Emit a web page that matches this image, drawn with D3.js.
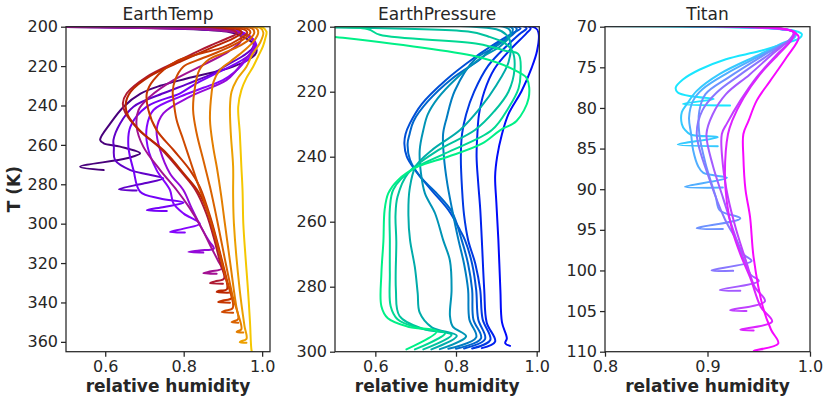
<!DOCTYPE html>
<html><head><meta charset="utf-8">
<script src="https://cdn.jsdelivr.net/npm/d3@7"></script>
<style>
body{margin:0;background:#fff;}
svg text{font-family:"DejaVu Sans",sans-serif;fill:#262626;}
</style></head><body>
<svg id="chart" width="830" height="403"></svg>
<script>
// ---------------- DATA ([relative humidity, T]) ----------------
const titles = ["EarthTemp", "EarthPressure", "Titan"];
const xLabel = "relative humidity";
const yLabel = "T (K)";

const earthTempXTicks = [0.6, 0.8, 1.0];
const earthTempYTicks = [200, 220, 240, 260, 280, 300, 320, 340, 360];
const earthPressureXTicks = [0.6, 0.8, 1.0];
const earthPressureYTicks = [200, 220, 240, 260, 280, 300];
const titanXTicks = [0.8, 0.9, 1.0];
const titanYTicks = [70, 75, 80, 85, 90, 95, 100, 105, 110];

const earthTempCurves = [
 [[0.0,200],[0.91,202.5],[0.95,205],[0.977,208.5],[0.986,211.9],[0.981,214.4],[0.926,220.3],[0.808,226.3],[0.74,230],[0.69,234],[0.647,240.6],[0.613,249.1],[0.587,257.5],[0.596,259.2],[0.638,260.9],[0.689,264.3],[0.655,266.8],[0.536,271.1],[0.596,272.8]],
 [[0.0,200],[0.92,202.2],[0.96,204.5],[0.978,207.5],[0.975,211],[0.95,215],[0.91,219.5],[0.875,223.7],[0.81,229],[0.748,233.8],[0.672,240.6],[0.638,249.1],[0.621,257.5],[0.622,261],[0.625,267.7],[0.664,272.8],[0.71,275],[0.748,277],[0.7,279.5],[0.635,282.5],[0.68,283.2]],
 [[0.0,200],[0.93,202.5],[0.965,205],[0.982,209],[0.975,213],[0.94,218],[0.88,224],[0.83,229],[0.791,233.8],[0.706,240.6],[0.664,250.8],[0.659,260.9],[0.672,272.8],[0.689,283.8],[0.74,287.2],[0.8,289.3],[0.75,291.5],[0.706,293.2],[0.757,293.6]],
 [[0.0,200],[0.935,202],[0.97,205],[0.985,209],[0.98,213],[0.955,218],[0.93,223],[0.9,227.1],[0.85,231],[0.791,235.5],[0.723,242.3],[0.706,250.8],[0.708,260.9],[0.731,272.8],[0.765,282.9],[0.774,289.8],[0.8,294.9],[0.841,300],[0.8,302.5],[0.765,304.2],[0.803,304.5]],
 [[0.0,200],[0.93,202],[0.965,204.5],[0.98,208],[0.975,212],[0.955,217],[0.935,222],[0.909,227.1],[0.816,235.5],[0.748,244],[0.731,252.5],[0.74,262.6],[0.765,274.5],[0.799,282.9],[0.82,292],[0.845,302],[0.865,309],[0.877,312.6],[0.84,313.6],[0.812,314.4],[0.85,314.7]],
 [[0.0,200],[0.9,202],[0.945,204],[0.945,207.5],[0.915,212.5],[0.858,218.6],[0.774,227.1],[0.714,235.5],[0.685,242.3],[0.68,250.8],[0.697,260.9],[0.74,272.8],[0.782,282.9],[0.815,292],[0.845,302],[0.87,312],[0.888,319],[0.897,322.8],[0.87,324.2],[0.85,325.1],[0.884,325.4]],
 [[0.0,200],[0.925,201.7],[0.935,203.4],[0.91,206],[0.875,209],[0.841,212],[0.791,216.9],[0.706,225.4],[0.655,233.8],[0.645,238.9],[0.652,244],[0.686,252.5],[0.745,262.6],[0.797,274.5],[0.83,282.9],[0.858,295],[0.878,308],[0.893,320],[0.903,327.8],[0.88,329.3],[0.867,330.2],[0.9,330.5]],
 [[0.0,200],[0.94,201.5],[0.948,203],[0.925,206],[0.885,209.5],[0.85,212.5],[0.8,217],[0.715,225],[0.665,233],[0.652,239.5],[0.658,245],[0.69,253],[0.75,263],[0.802,275],[0.838,284],[0.865,296],[0.885,310],[0.9,322],[0.91,333.4],[0.89,334],[0.884,334.7],[0.918,335]],
 [[0.0,200],[0.955,201.5],[0.962,203],[0.94,206.5],[0.9,210.5],[0.845,213.5],[0.782,217.5],[0.723,227.1],[0.706,233.8],[0.71,242.3],[0.731,252.5],[0.774,262.6],[0.816,272.8],[0.841,281.3],[0.87,298],[0.893,315],[0.912,330],[0.922,337.8],[0.9,339],[0.888,339.8],[0.918,340.1]],
 [[0.0,200],[0.965,201.3],[0.97,203],[0.955,206],[0.925,209.5],[0.88,213.5],[0.835,217],[0.799,220.3],[0.778,227.1],[0.772,233],[0.774,237.2],[0.782,247.4],[0.799,257.5],[0.816,267.7],[0.833,277.9],[0.858,292],[0.882,308],[0.905,326],[0.925,342.8],[0.905,344.2],[0.897,344.9],[0.926,345.2]],
 [[0.0,200],[0.975,201],[0.98,203],[0.97,206],[0.945,209.5],[0.9,213.5],[0.865,216.5],[0.84,222],[0.829,230.5],[0.824,242.3],[0.833,254.1],[0.85,267.7],[0.867,281.3],[0.885,298],[0.905,318],[0.925,337],[0.939,348.3],[0.928,349.5],[0.922,350],[0.939,350.3]],
 [[0.0,200],[0.985,200.8],[0.99,203],[0.98,207],[0.955,212],[0.92,217.5],[0.892,222],[0.876,228],[0.871,233.8],[0.867,247.4],[0.875,260.9],[0.885,272],[0.895,285],[0.905,300],[0.92,322],[0.935,343],[0.947,353.6],[0.938,354.6],[0.935,355],[0.952,355.3]],
 [[0.0,200],[0.995,200.6],[1.003,203],[0.995,208],[0.975,214],[0.96,220.3],[0.935,227],[0.922,233],[0.918,240.7],[0.92,254],[0.926,271],[0.926,285],[0.928,300],[0.943,334],[0.955,352],[0.96,358.5],[0.945,359.8],[0.943,360.2],[0.96,360.5]],
 [[0.0,200],[1.0,200.3],[1.011,202.5],[1.008,206],[1.002,210],[0.99,215],[0.977,220.3],[0.96,226],[0.947,232.2],[0.939,240.7],[0.943,254],[0.947,271],[0.95,283],[0.952,300],[0.958,318],[0.964,334],[0.969,350],[0.973,364.4],[0.975,365.5]]
];

const earthPressureCurves = [
 [[0.0,200],[0.997,200.4],[1.005,202.2],[1.001,207.4],[0.988,212.5],[0.963,219.7],[0.93,226.9],[0.914,233],[0.902,240],[0.897,246],[0.9,254],[0.905,265.6],[0.91,281],[0.914,291],[0.926,295.9],[0.922,297.4],[0.934,298.2]],
 [[0.0,200],[0.985,200.4],[0.975,202],[0.935,207],[0.895,213],[0.87,220],[0.857,227],[0.853,233],[0.851,240],[0.855,248],[0.86,256],[0.864,265.6],[0.87,281],[0.876,291],[0.897,296.9],[0.864,298.9]],
 [[0.0,200],[0.975,200.4],[0.96,202],[0.925,206],[0.88,212],[0.845,220],[0.825,227],[0.815,233],[0.812,240],[0.815,250],[0.82,258],[0.83,265.6],[0.848,273],[0.86,281],[0.866,290],[0.885,296.4],[0.84,299]],
 [[0.0,200],[0.96,200.5],[0.94,202],[0.9,205],[0.847,209.4],[0.773,216.6],[0.715,223.8],[0.685,229.9],[0.675,233],[0.672,236],[0.678,240],[0.698,244],[0.739,250.3],[0.781,256.4],[0.81,262.6],[0.822,265.6],[0.84,273],[0.85,281],[0.855,290],[0.872,296.1],[0.82,299]],
 [[0.0,200],[0.95,200.5],[0.94,202.5],[0.9,205.5],[0.86,210],[0.79,216],[0.73,223],[0.695,229],[0.685,233],[0.68,236],[0.686,241],[0.71,246],[0.75,251],[0.79,257],[0.814,265.6],[0.83,273],[0.84,281],[0.843,290],[0.862,295.9],[0.8,299.1]],
 [[0.0,200],[0.94,200.5],[0.935,202.5],[0.9,206],[0.847,210],[0.797,219.7],[0.777,228],[0.768,233],[0.77,240],[0.778,248],[0.79,256],[0.806,265.6],[0.82,273],[0.83,281],[0.833,290],[0.85,295.6],[0.781,299.1]],
 [[0.0,200],[0.93,200.6],[0.935,202.5],[0.91,206],[0.864,209.4],[0.8,216],[0.755,222],[0.73,227],[0.719,231.8],[0.71,238],[0.713,245],[0.723,251.3],[0.748,257.4],[0.768,265.6],[0.785,272],[0.789,281],[0.785,289],[0.792,292.3],[0.825,295.3],[0.76,299.2]],
 [[0.0,200],[0.9,200.8],[0.925,202.5],[0.935,205],[0.93,211],[0.9,218],[0.86,225],[0.81,231.8],[0.74,238],[0.7,243],[0.685,250],[0.682,258],[0.686,265.6],[0.698,274],[0.705,282],[0.71,288],[0.74,292.5],[0.802,295.1],[0.739,299.3]],
 [[0.1,200],[0.83,201.5],[0.88,203],[0.92,205],[0.94,207.5],[0.945,213],[0.93,220],[0.895,226],[0.847,231.8],[0.756,238],[0.681,245.1],[0.655,252.3],[0.65,258],[0.652,266],[0.651,281],[0.66,289],[0.72,293],[0.789,294.8],[0.719,299.3]],
 [[0.2,200],[0.58,200.7],[0.611,202.5],[0.856,205.3],[0.922,207.4],[0.955,208.5],[0.96,214.6],[0.955,219],[0.93,225],[0.889,231.8],[0.773,239],[0.69,244.1],[0.645,250],[0.636,256],[0.636,266],[0.636,276],[0.638,286],[0.655,290],[0.71,292.8],[0.773,294.3],[0.698,299.3]],
 [[0.264,200],[0.86,209.5],[0.955,214],[0.976,216],[0.98,222],[0.95,229],[0.91,231.8],[0.864,236],[0.78,240],[0.706,243],[0.656,247.2],[0.632,251.3],[0.623,256.4],[0.62,266],[0.615,276],[0.615,286],[0.631,289.7],[0.681,292.3],[0.752,293.8],[0.677,299.3]]
];

const titanCurves = [
 [[0.0,70],[0.975,70.3],[0.988,70.6],[0.992,70.9],[0.99,71.4],[0.977,72.0],[0.951,73.0],[0.918,74.0],[0.892,75.3],[0.876,76.5],[0.869,77.5],[0.871,78.1],[0.886,78.6],[0.906,78.9],[0.876,79.5],[0.922,79.7]],
 [[0.0,70],[0.972,70.3],[0.986,70.7],[0.985,71.3],[0.97,72.2],[0.951,73.4],[0.912,75.8],[0.8895,77.9],[0.88,79.5],[0.875,80.5],[0.875,82],[0.878,82.7],[0.884,83.3],[0.91,83.6],[0.871,84.5],[0.91,84.7]],
 [[0.0,70],[0.972,70.3],[0.985,70.7],[0.983,71.4],[0.968,72.5],[0.951,73.6],[0.918,75.8],[0.895,77.7],[0.886,79.1],[0.882,81.2],[0.884,83.2],[0.886,85.2],[0.891,87.2],[0.896,88.0],[0.919,88.6],[0.878,89.7],[0.915,89.8]],
 [[0.0,70],[0.972,70.3],[0.985,70.7],[0.982,71.5],[0.967,72.6],[0.951,73.8],[0.921,76.2],[0.898,78.3],[0.892,80.4],[0.892,83.2],[0.898,86.8],[0.908,90.9],[0.912,92.6],[0.932,93.6],[0.8895,94.8],[0.915,94.9]],
 [[0.0,70],[0.973,70.3],[0.985,70.7],[0.982,71.5],[0.97,72.5],[0.958,73.6],[0.932,75.9],[0.909,78.1],[0.895,80.3],[0.8895,83.2],[0.902,88.8],[0.917,93.7],[0.928,96.2],[0.935,98.0],[0.943,98.85],[0.904,99.98],[0.925,100.05]],
 [[0.0,70],[0.974,70.3],[0.984,70.7],[0.98,71.6],[0.964,73.3],[0.941,75.9],[0.918,78.3],[0.905,80.8],[0.899,83.2],[0.905,87],[0.915,91],[0.925,95],[0.935,98.5],[0.942,100.5],[0.95,101.3],[0.912,102.4],[0.932,102.5]],
 [[0.0,70],[0.975,70.3],[0.985,70.7],[0.982,71.6],[0.967,73.5],[0.948,76.2],[0.932,79.1],[0.919,81.9],[0.914,83.2],[0.915,87],[0.92,91],[0.928,95],[0.938,99],[0.946,102],[0.956,103.8],[0.922,104.9],[0.938,105]],
 [[0.0,70],[0.975,70.3],[0.984,70.7],[0.982,71.6],[0.97,73.3],[0.951,75.9],[0.935,78.8],[0.924,81.6],[0.92,83.2],[0.917,88],[0.919,91.7],[0.924,95],[0.932,98],[0.942,101],[0.952,104.5],[0.963,106.3],[0.932,107.3],[0.945,107.4]],
 [[0.0,70],[0.976,70.3],[0.985,70.7],[0.989,71.3],[0.977,73.8],[0.961,76.7],[0.948,79.1],[0.94,81.6],[0.935,83.2],[0.935,86],[0.937,90],[0.9415,93.4],[0.945,98.4],[0.954,104.5],[0.962,107.3],[0.969,109],[0.945,109.9],[0.954,110]]
];

// ---------------- STYLE / LAYOUT ----------------
const gnuplot = t => d3.rgb(255*Math.sqrt(t), 255*t*t*t, 255*Math.max(0, Math.sin(2*Math.PI*t))).formatHex();
const winter = t => d3.rgb(0, 255*t, 255*(1-0.5*t)).formatHex();
const cool = t => d3.rgb(255*t, 255*(1-t), 255).formatHex();

const plotTop = 26.7, plotBottom = 351.7;
const panels = [
  {title: titles[0], curves: earthTempCurves, xDom: [0.5, 1.02], yDom: [200, 365], xTicks: earthTempXTicks, yTicks: earthTempYTicks, x0: 66, x1: 270, cmap: gnuplot, t0: 0.08, t1: 0.92},
  {title: titles[1], curves: earthPressureCurves, xDom: [0.5, 1.0065], yDom: [200, 300], xTicks: earthPressureXTicks, yTicks: earthPressureYTicks, x0: 335, x1: 539.3, cmap: winter, t0: 0.04, t1: 0.94},
  {title: titles[2], curves: titanCurves, xDom: [0.8, 1.0], yDom: [70, 110], xTicks: titanXTicks, yTicks: titanYTicks, x0: 605, x1: 810, cmap: cool, t0: 0.1, t1: 0.97}
];

const svg = d3.select("#chart");
const ink = "#262626";

panels.forEach((p, pi) => {
  const x = d3.scaleLinear().domain(p.xDom).range([p.x0, p.x1]);
  const y = d3.scaleLinear().domain(p.yDom).range([plotTop, plotBottom]);
  const g = svg.append("g");

  const clipId = "clip" + pi;
  svg.append("clipPath").attr("id", clipId).append("rect")
    .attr("x", p.x0).attr("y", plotTop).attr("width", p.x1 - p.x0).attr("height", plotBottom - plotTop);

  const line = d3.line().x(d => x(d[0])).y(d => y(d[1])).curve(d3.curveCatmullRom.alpha(0.5));
  const n = p.curves.length;
  g.append("g").attr("clip-path", `url(#${clipId})`)
    .selectAll("path").data(p.curves).join("path")
    .attr("d", line)
    .attr("fill", "none")
    .attr("stroke", (d, i) => p.cmap(p.t0 + (p.t1 - p.t0) * i / (n - 1)))
    .attr("stroke-width", 2)
    .attr("stroke-linejoin", "round")
    .attr("stroke-linecap", "round");

  const xAxis = d3.axisBottom(x).tickValues(p.xTicks).tickFormat(d3.format(".1f")).tickSize(5).tickPadding(4);
  const yAxis = d3.axisLeft(y).tickValues(p.yTicks).tickFormat(d3.format("d")).tickSize(5).tickPadding(3);
  const gx = g.append("g").attr("transform", `translate(0,${plotBottom})`).call(xAxis);
  const gy = g.append("g").attr("transform", `translate(${p.x0},0)`).call(yAxis);
  [gx, gy].forEach(a => {
    a.select(".domain").remove();
    a.selectAll(".tick line").attr("stroke", ink).attr("stroke-width", 1.25);
    a.selectAll(".tick text").attr("fill", ink).style("font-size", "16px").style("font-family", "DejaVu Sans");
  });

  g.append("rect").attr("x", p.x0).attr("y", plotTop).attr("width", p.x1 - p.x0).attr("height", plotBottom - plotTop)
    .attr("fill", "none").attr("stroke", ink).attr("stroke-width", 1.25);

  g.append("text").attr("x", (p.x0 + p.x1) / 2).attr("y", 20).attr("text-anchor", "middle")
    .style("font-size", "17px").text(p.title);

  g.append("text").attr("x", (p.x0 + p.x1) / 2).attr("y", 392).attr("text-anchor", "middle")
    .style("font-size", "17px").style("font-weight", "bold").text(xLabel);

  if (pi === 0) {
    g.append("text").attr("transform", `translate(20,${(plotTop + plotBottom) / 2}) rotate(-90)`)
      .attr("text-anchor", "middle").style("font-size", "17px").style("font-weight", "bold").text(yLabel);
  }
});
</script>
</body></html>
